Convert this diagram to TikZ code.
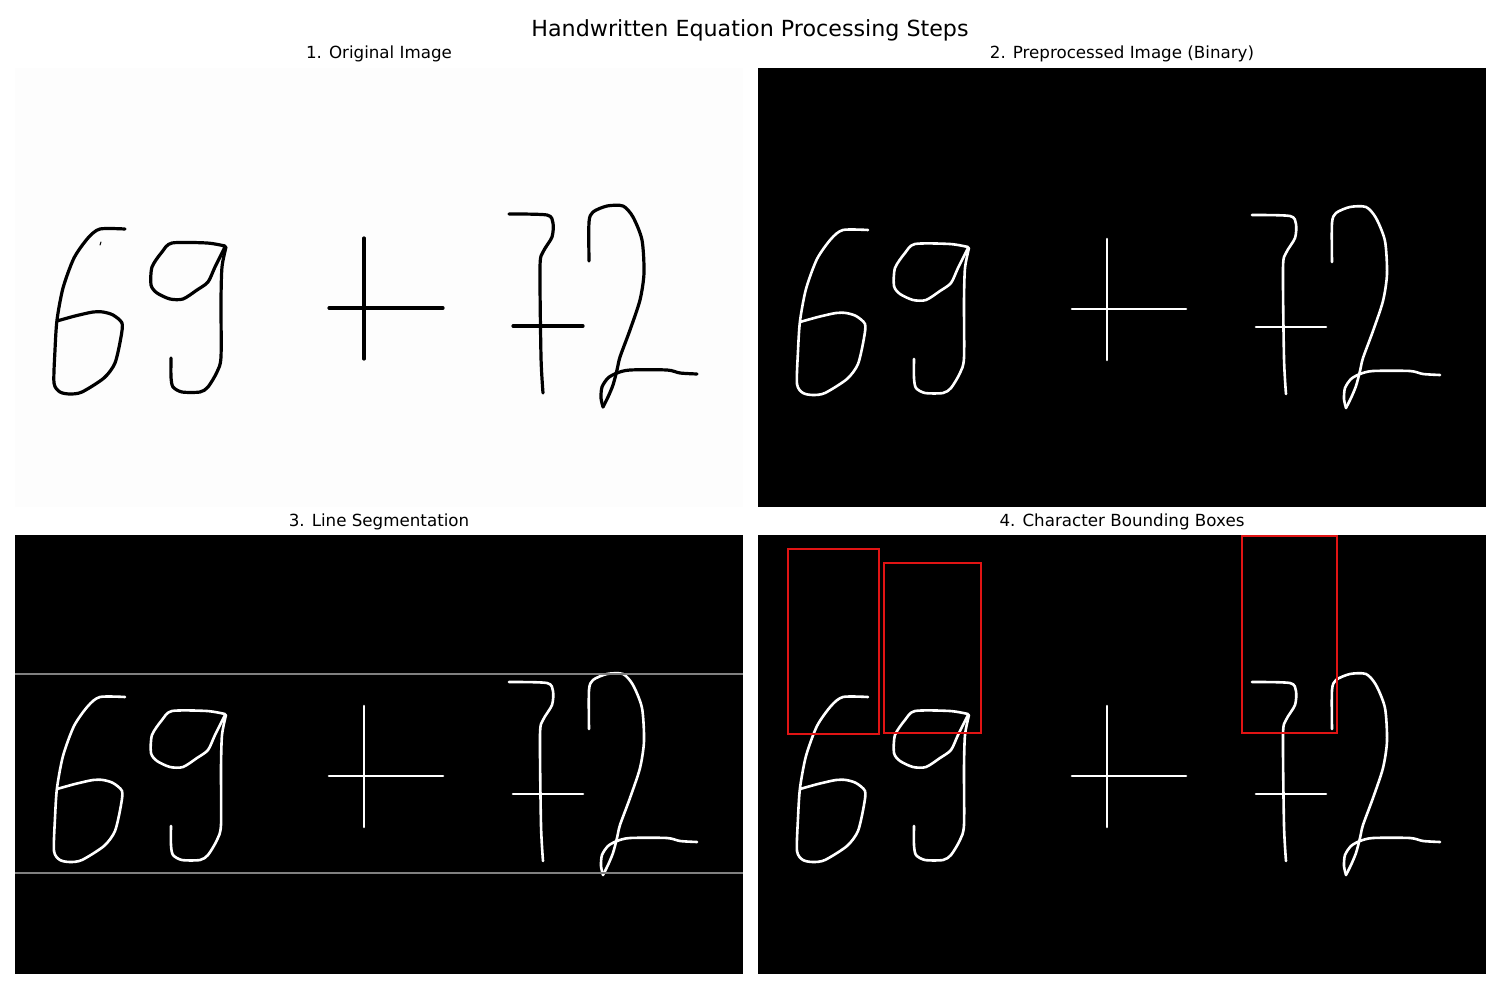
\documentclass[tikz,border=0pt]{standalone}
\usepackage{fontspec}
\setmainfont{DejaVu Sans}
\usepackage{tikz}
\usepackage{xcolor}
\definecolor{paperWhite}{RGB}{253,253,253}
\definecolor{lineGray}{RGB}{128,128,128}
\definecolor{boxRed}{RGB}{225,20,20}
% the handwritten "69 + 72", in pixels as it sits in the first panel
\newcommand{\HandStrokes}[2]{%
  \begin{scope}[draw=#1,line width=#2,line cap=round,line join=round]
  % six
  \draw plot[smooth,tension=0.45] coordinates {(125,229) (100,229) (88,238) (74,258) (63,288) (57,320) (55,350) (54,383) (60,392) (70,394) (82,392) (104,378) (115,363) (121,337) (122,323) (113,315) (103,312) (93,312) (75,316) (57,321)};
  % nine
  \draw plot[smooth,tension=0.45] coordinates {(225,246) (207,243) (172,243) (162,252) (152,267) (151,285) (157,293) (170,299) (183,299) (197,290) (208,282) (215,267) (225,247)};
  \draw plot[smooth,tension=0.45] coordinates {(226,247) (222,267) (221,300) (221,357) (217,372) (208,387) (200,392) (182,392) (173,387) (171,377) (171,358)};
  % plus
  \draw (364,238) -- (364,359);
  \draw (329,308) -- (443,308);
  % seven
  \draw plot[smooth,tension=0.45] coordinates {(509,214) (547,215) (553,223) (552,237) (543,252) (540,267) (541,357) (543,393)};
  \draw (513,326) -- (583,326);
  % two
  \draw plot[smooth,tension=0.45] coordinates {(589,261) (589,222) (593,212) (607,206) (623,206) (633,217) (642,240) (644,273) (640,300) (630,330) (620,357) (617,370) (613,385) (608,397) (603,407)};
  \draw plot[smooth,tension=0.45] coordinates {(603,407) (601,398) (602,387) (608,378) (617,373) (630,370) (667,370) (680,373) (697,374)};
  \end{scope}}

\begin{document}
\begin{tikzpicture}[x=1pt,y=-1pt]
\useasboundingbox (0,0) rectangle (1500,1000);
\tikzset{
  suptitle/.style={anchor=base,font=\fontsize{22.2}{26}\selectfont},
  subtitle/.style={anchor=base,font=\fontsize{16.7}{20}\selectfont},
  gridline/.style={draw=lineGray,line width=2},
  charbox/.style={draw=boxRed,line width=2}
}
\fill[white] (0,0) rectangle (1500,1000);

% titles
\node[suptitle] (title) at (750,37) {Handwritten Equation Processing Steps};
\node[subtitle] (capOriginal) at (379,59) {1. Original Image};
\node[subtitle] (capBinary) at (1122,59) {2. Preprocessed Image (Binary)};
\node[subtitle] (capLines) at (379,526) {3. Line Segmentation};
\node[subtitle] (capBoxes) at (1122,526) {4. Character Bounding Boxes};

% panel 1
\fill[paperWhite] (15,68) rectangle (743,507);
\HandStrokes{black}{3.2}
\draw[line width=1,line cap=round] (100,245) -- (101,242);

% panel 2
\fill[black] (758,68) rectangle (1486,507);
\begin{scope}[shift={(743,1)}]
  \HandStrokes{white}{2.6}
\end{scope}

% panel 3
\fill[black] (15,535) rectangle (743,974);
\begin{scope}[shift={(0,468)}]
  \HandStrokes{white}{2.6}
\end{scope}
\draw[gridline] (15,674) -- (743,674);
\draw[gridline] (15,873) -- (743,873);

% panel 4
\fill[black] (758,535) rectangle (1486,974);
\begin{scope}[shift={(743,468)}]
  \HandStrokes{white}{2.6}
\end{scope}
\draw[charbox] (788,549) rectangle (879,734);
\draw[charbox] (884,563) rectangle (981,733);
\draw[charbox] (1242,536) rectangle (1337,733);
\end{tikzpicture}
\end{document}
